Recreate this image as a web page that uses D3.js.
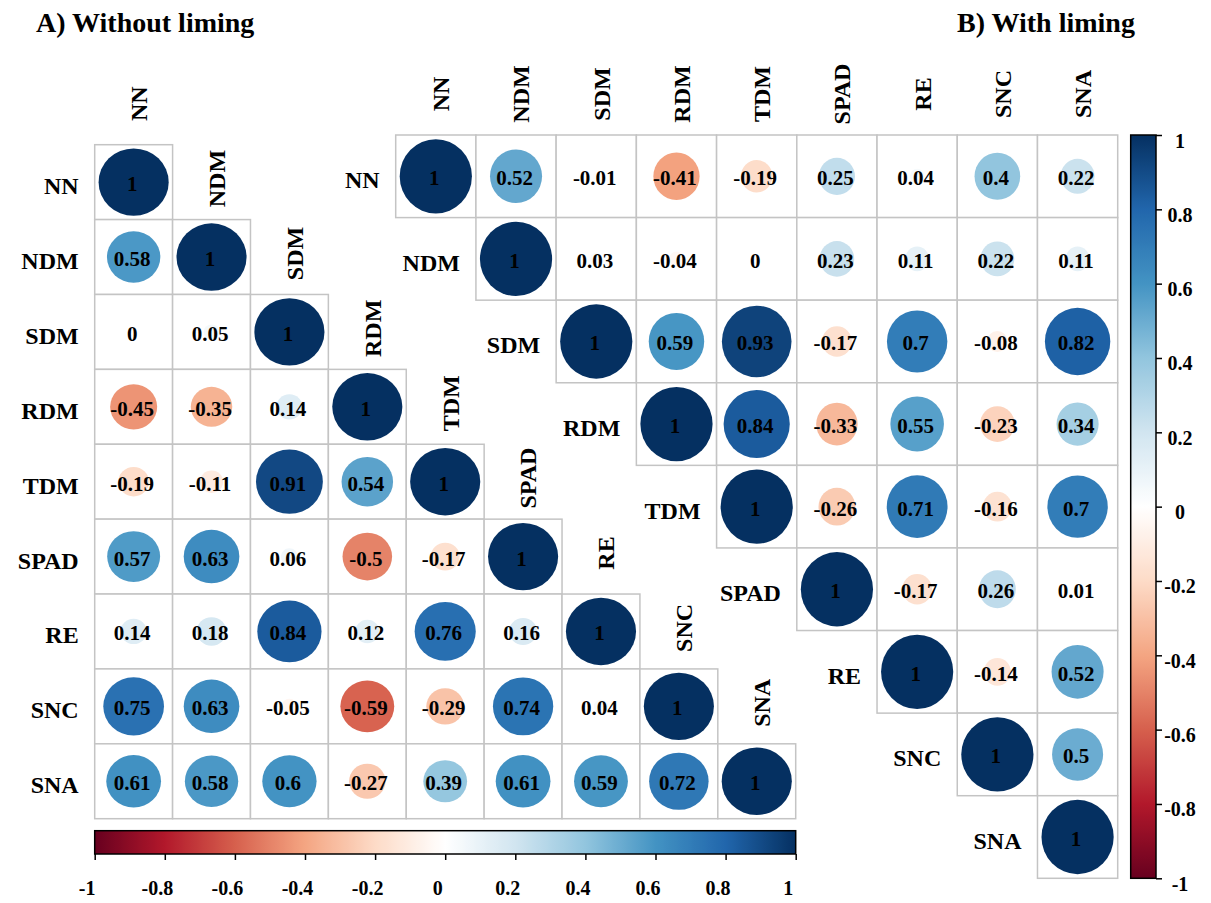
<!DOCTYPE html>
<html>
<head>
<meta charset="utf-8">
<script src="https://cdn.jsdelivr.net/npm/d3@7"></script>
<style>
  html, body { margin: 0; padding: 0; background: #fff; }
  svg { display: block; }
  text { font-family: "Liberation Serif", "Times New Roman", serif; font-weight: bold; fill: #000; }
</style>
</head>
<body>
<script>
// ---------- DATA ----------
const variables = ["NN", "NDM", "SDM", "RDM", "TDM", "SPAD", "RE", "SNC", "SNA"];

// A) Without liming — lower triangle, row by row (col 0 .. diagonal)
const withoutLiming = [
  [1],
  [0.58, 1],
  [0, 0.05, 1],
  [-0.45, -0.35, 0.14, 1],
  [-0.19, -0.11, 0.91, 0.54, 1],
  [0.57, 0.63, 0.06, -0.5, -0.17, 1],
  [0.14, 0.18, 0.84, 0.12, 0.76, 0.16, 1],
  [0.75, 0.63, -0.05, -0.59, -0.29, 0.74, 0.04, 1],
  [0.61, 0.58, 0.6, -0.27, 0.39, 0.61, 0.59, 0.72, 1]
];

// B) With liming — upper triangle, row by row (diagonal .. last col)
const withLiming = [
  [1, 0.52, -0.01, -0.41, -0.19, 0.25, 0.04, 0.4, 0.22],
  [1, 0.03, -0.04, 0, 0.23, 0.11, 0.22, 0.11],
  [1, 0.59, 0.93, -0.17, 0.7, -0.08, 0.82],
  [1, 0.84, -0.33, 0.55, -0.23, 0.34],
  [1, -0.26, 0.71, -0.16, 0.7],
  [1, -0.17, 0.26, 0.01],
  [1, -0.14, 0.52],
  [1, 0.5],
  [1]
];

const colorbarTicks = [-1, -0.8, -0.6, -0.4, -0.2, 0, 0.2, 0.4, 0.6, 0.8, 1];
const colorbarTickLabels = ["-1", "-0.8", "-0.6", "-0.4", "-0.2", "0", "0.2", "0.4", "0.6", "0.8", "1"];

const titles = ["A) Without liming", "B) With liming"];

// RdBu palette used by corrplot
const rdbu = ["#67001F", "#B2182B", "#D6604D", "#F4A582", "#FDDBC7", "#FFFFFF",
              "#D1E5F0", "#92C5DE", "#4393C3", "#2166AC", "#053061"];

// ---------- SETUP ----------
const W = 1211, H = 903;
const svg = d3.select("body").append("svg").attr("width", W).attr("height", H);

const color = d3.scaleLinear()
  .domain(d3.range(rdbu.length).map(i => -1 + 2 * i / (rdbu.length - 1)))
  .range(rdbu)
  .interpolate(d3.interpolateRgb);

const gridColor = "#c4c4c4";

function drawCorr(cfg) {
  const x = d3.scaleBand().domain(variables).range(cfg.xr);
  const y = d3.scaleBand().domain(variables).range(cfg.yr);
  const cw = x.bandwidth(), ch = y.bandwidth();
  const g = svg.append("g");

  const cells = [];
  variables.forEach((rv, i) => {
    variables.forEach((cv, j) => {
      let v = null;
      if (cfg.lower && j <= i) v = cfg.data[i][j];
      if (!cfg.lower && j >= i) v = cfg.data[i][j - i];
      if (v !== null) cells.push({ row: rv, col: cv, v });
    });
  });

  g.selectAll("rect.cell").data(cells).join("rect")
    .attr("class", "cell")
    .attr("x", d => x(d.col)).attr("y", d => y(d.row))
    .attr("width", cw).attr("height", ch)
    .attr("fill", "#fff").attr("stroke", gridColor).attr("stroke-width", 1.5);

  g.selectAll("ellipse").data(cells).join("ellipse")
    .attr("cx", d => x(d.col) + cw / 2).attr("cy", d => y(d.row) + ch / 2)
    .attr("rx", d => 0.45 * cw * Math.sqrt(Math.abs(d.v)))
    .attr("ry", d => 0.45 * ch * Math.sqrt(Math.abs(d.v)))
    .attr("fill", d => color(d.v));

  g.selectAll("text.num").data(cells).join("text")
    .attr("class", "num")
    .attr("x", d => x(d.col) + cw / 2 - 1.5)
    .attr("y", d => y(d.row) + ch / 2 + 9)
    .attr("text-anchor", "middle")
    .style("font-size", "21px")
    .text(d => String(d.v));

  // row labels
  g.selectAll("text.rowlab").data(variables).join("text")
    .attr("class", "rowlab")
    .attr("x", (d, i) => (cfg.lower ? cfg.xr[0] : x(d)) - 16)
    .attr("y", d => y(d) + ch / 2 + 12)
    .attr("text-anchor", "end")
    .style("font-size", "24px")
    .text(d => d);

  // column labels (vertical)
  g.selectAll("text.collab").data(variables).join("text")
    .attr("class", "collab")
    .attr("transform", d => {
      const top = cfg.lower ? y(d) : cfg.yr[0];
      return `translate(${x(d) + cw / 2 + 5},${top - 41}) rotate(-90)`;
    })
    .attr("text-anchor", "middle")
    .attr("dy", "0.35em")
    .style("font-size", "24px")
    .text(d => d);
}

drawCorr({ data: withoutLiming, lower: true, xr: [94.7, 795.7], yr: [144.7, 818.7] });
drawCorr({ data: withLiming, lower: false, xr: [395.7, 1117.7], yr: [135, 878.3] });

// ---------- TITLES ----------
svg.append("text").attr("x", 36).attr("y", 31.5).style("font-size", "28px").text(titles[0]);
svg.append("text").attr("x", 957).attr("y", 31.5).style("font-size", "28px").text(titles[1]);

// ---------- COLOR BARS ----------
const defs = svg.append("defs");
function gradient(id, x1, y1, x2, y2) {
  const lg = defs.append("linearGradient").attr("id", id)
    .attr("x1", x1).attr("y1", y1).attr("x2", x2).attr("y2", y2);
  d3.range(0, 201).forEach(k => {
    const v = -1 + 2 * k / 200;
    lg.append("stop").attr("offset", (k / 200 * 100) + "%").attr("stop-color", color(v));
  });
}
gradient("gh", "0%", "0%", "100%", "0%");
gradient("gv", "0%", "100%", "0%", "0%");

// horizontal bar (A)
const hb = { x0: 94.7, x1: 795.7, y0: 830.7, y1: 854 };
const hScale = d3.scaleLinear().domain([-1, 1]).range([hb.x0, hb.x1]);
svg.append("rect").attr("x", hb.x0).attr("y", hb.y0)
  .attr("width", hb.x1 - hb.x0).attr("height", hb.y1 - hb.y0)
  .attr("fill", "url(#gh)").attr("stroke", "#000").attr("stroke-width", 1.5);
const hAxis = svg.append("g").attr("transform", `translate(0,${hb.y1})`)
  .call(d3.axisBottom(hScale).tickValues(colorbarTicks)
    .tickFormat((d, i) => colorbarTickLabels[i]).tickSize(6).tickSizeOuter(0));
hAxis.select(".domain").remove();
hAxis.selectAll(".tick line").attr("stroke", "#000").attr("stroke-width", 1.5);
hAxis.selectAll(".tick text")
  .attr("x", -8).attr("y", 41).attr("dy", 0)
  .style("font-size", "20px").style("font-family", '"Liberation Serif", serif')
  .style("font-weight", "bold").attr("fill", "#000");

// vertical bar (B)
const vb = { x0: 1130.7, x1: 1156, y0: 135, y1: 878.3 };
const vScale = d3.scaleLinear().domain([-1, 1]).range([vb.y1, vb.y0]);
svg.append("rect").attr("x", vb.x0).attr("y", vb.y0)
  .attr("width", vb.x1 - vb.x0).attr("height", vb.y1 - vb.y0)
  .attr("fill", "url(#gv)").attr("stroke", "#000").attr("stroke-width", 1.5);
const vAxis = svg.append("g").attr("transform", `translate(${vb.x1},0)`)
  .call(d3.axisRight(vScale).tickValues(colorbarTicks)
    .tickFormat((d, i) => colorbarTickLabels[i]).tickSize(6).tickSizeOuter(0));
vAxis.select(".domain").remove();
vAxis.selectAll(".tick line").attr("stroke", "#000").attr("stroke-width", 1.5);
vAxis.selectAll(".tick text")
  .attr("x", 24).attr("dy", 0).attr("y", 12)
  .attr("text-anchor", "middle")
  .style("font-size", "20px").style("font-family", '"Liberation Serif", serif')
  .style("font-weight", "bold").attr("fill", "#000");
</script>
</body>
</html>
